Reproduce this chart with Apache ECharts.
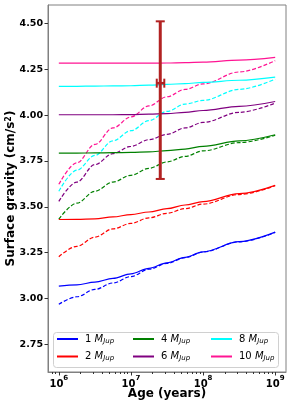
<!DOCTYPE html>
<html><head><meta charset="utf-8">
<script src="https://cdn.jsdelivr.net/npm/echarts@6/dist/echarts.min.js"></script>
<style>html,body{margin:0;padding:0;background:#fff}#c{width:291px;height:403px}</style>
</head><body><div id="c"></div>
<script>
// ---- data ----
const ages = [1e6, 1.778e6, 3.162e6, 5.623e6, 1e7, 1.778e7, 3.162e7, 5.623e7, 1e8, 3.162e8, 1e9];
const masses = [1, 2, 4, 6, 8, 10];
// solid curves
const gSolid1  = [3.068, 3.075, 3.090, 3.110, 3.135, 3.165, 3.195, 3.225, 3.255, 3.310, 3.362];
const gSolid2  = [3.431, 3.432, 3.435, 3.445, 3.458, 3.472, 3.490, 3.510, 3.528, 3.572, 3.617];
const gSolid4  = [3.793, 3.793, 3.794, 3.795, 3.797, 3.800, 3.806, 3.815, 3.830, 3.860, 3.893];
const gSolid6  = [4.002, 4.002, 4.002, 4.002, 4.003, 4.005, 4.008, 4.015, 4.025, 4.048, 4.074];
const gSolid8  = [4.157, 4.157, 4.158, 4.159, 4.160, 4.163, 4.167, 4.172, 4.178, 4.190, 4.207];
const gSolid10 = [4.283, 4.283, 4.283, 4.283, 4.283, 4.283, 4.284, 4.286, 4.289, 4.300, 4.315];
// dashed curves
const gDash1  = [2.969, 3.010, 3.050, 3.085, 3.120, 3.160, 3.192, 3.223, 3.254, 3.309, 3.361];
const gDash2  = [3.228, 3.285, 3.335, 3.380, 3.410, 3.440, 3.465, 3.490, 3.515, 3.567, 3.615];
const gDash4  = [3.433, 3.520, 3.585, 3.635, 3.672, 3.710, 3.745, 3.775, 3.805, 3.850, 3.890];
const gDash6  = [3.530, 3.635, 3.730, 3.790, 3.830, 3.866, 3.895, 3.930, 3.960, 4.015, 4.065];
const gDash8  = [3.585, 3.700, 3.780, 3.860, 3.915, 3.970, 4.020, 4.060, 4.080, 4.140, 4.196];
const gDash10 = [3.623, 3.740, 3.840, 3.930, 3.990, 4.050, 4.100, 4.140, 4.170, 4.235, 4.297];
// observed point with error bars
const obsAge = [2.55e7], obsAgeLow = [2.28e7], obsAgeHigh = [2.9e7];
const obsG = [4.174], obsGLow = [3.652], obsGHigh = [4.511];
// ticks
const xTicks = [1e6, 1e7, 1e8, 1e9];
const xMinor = [8e5, 9e5, 2e6, 3e6, 4e6, 5e6, 6e6, 7e6, 8e6, 9e6, 2e7, 3e7, 4e7, 5e7, 6e7, 7e7, 8e7, 9e7,
                2e8, 3e8, 4e8, 5e8, 6e8, 7e8, 8e8, 9e8];
const yTicks = [2.75, 3.00, 3.25, 3.50, 3.75, 4.00, 4.25, 4.50];

const solids = [gSolid1, gSolid2, gSolid4, gSolid6, gSolid8, gSolid10];
const dashes = [gDash1, gDash2, gDash4, gDash6, gDash8, gDash10];
const colors = ['#0000ff', '#ff0000', '#008000', '#800080', '#00ffff', '#ff1493'];
const FONT = 'DejaVu Sans';

const series = [];
masses.forEach((m, k) => {
  series.push({
    name: m + ' MJup', type: 'line', symbol: 'none', smooth: 0.35, smoothMonotone: 'x',
    itemStyle: {color: colors[k]}, lineStyle: {color: colors[k], width: 1.2}, z: 3,
    data: ages.map((a, i) => [a, solids[k][i]])
  });
  series.push({
    name: m + ' dash', type: 'line', symbol: 'none', smooth: 0.35, smoothMonotone: 'x',
    itemStyle: {color: colors[k]}, lineStyle: {color: colors[k], width: 1.2, type: [4, 2]}, z: 2,
    data: ages.map((a, i) => [a, dashes[k][i]])
  });
});
const EC = '#b22222';
series.push({
  type: 'custom', z: 10,
  data: obsAge.map((a, i) => [a, obsG[i], obsAgeLow[i], obsAgeHigh[i], obsGLow[i], obsGHigh[i]]),
  renderItem: function (params, api) {
    const c = api.coord([api.value(0), api.value(1)]);
    const t = api.coord([api.value(0), api.value(5)]);
    const b = api.coord([api.value(0), api.value(4)]);
    const l = api.coord([api.value(2), api.value(1)]);
    const r = api.coord([api.value(3), api.value(1)]);
    const cap = 4.5;
    const st = w => ({stroke: EC, lineWidth: w});
    return {type: 'group', children: [
      {type: 'line', shape: {x1: t[0], y1: t[1], x2: b[0], y2: b[1]}, style: st(3)},
      {type: 'line', shape: {x1: t[0] - cap, y1: t[1], x2: t[0] + cap, y2: t[1]}, style: st(2)},
      {type: 'line', shape: {x1: b[0] - cap, y1: b[1], x2: b[0] + cap, y2: b[1]}, style: st(2)},
      {type: 'line', shape: {x1: l[0], y1: c[1], x2: r[0], y2: c[1]}, style: st(2.5)},
      {type: 'line', shape: {x1: l[0], y1: c[1] - cap, x2: l[0], y2: c[1] + cap}, style: st(2)},
      {type: 'line', shape: {x1: r[0], y1: c[1] - cap, x2: r[0], y2: c[1] + cap}, style: st(2)}
    ]};
  }
});

const legendCols = [[0, 1], [2, 3], [4, 5]];
const legendLeft = [57, 133, 211];
const legends = legendCols.map((col, j) => ({
  data: col.map(k => masses[k] + ' MJup'),
  orient: 'vertical', left: legendLeft[j], top: 334, itemWidth: 21, itemHeight: 2, itemGap: 7,
  icon: 'rect', padding: 0,
  formatter: name => name.split(' ')[0] + ' {i|M}{s|Jup}',
  textStyle: {fontFamily: FONT, fontSize: 10, color: '#000', padding: [0, 0, 0, 2],
    rich: {i: {fontFamily: FONT, fontSize: 10, fontStyle: 'italic', color: '#000'},
           s: {fontFamily: FONT, fontSize: 7, fontStyle: 'italic', color: '#000', verticalAlign: 'bottom', padding: [4, 0, 0, 0]}}}
}));

const chart = echarts.init(document.getElementById('c'), null, {renderer: 'canvas'});
chart.setOption({
  animation: false,
  backgroundColor: '#fff',
  grid: {left: 48, right: 5, top: 5, bottom: 31, outerBoundsMode: 'none', containLabel: false,
    show: true, borderColor: '#808080', borderWidth: 1, backgroundColor: 'transparent'},
  legend: legends,
  graphic: [{type: 'rect', left: 53, top: 332, z: 1,
    shape: {width: 225, height: 35, r: 3},
    style: {fill: 'rgba(255,255,255,0.85)', stroke: '#d0d0d0', lineWidth: 1}}],
  xAxis: [{
    type: 'log', logBase: 10, min: Math.pow(10, 5.85), max: Math.pow(10, 9.15),
    axisLine: {show: true, lineStyle: {color: '#808080'}},
    axisTick: {show: true, customValues: xTicks, length: 3.5, lineStyle: {color: '#333'}},
    minorTick: {show: false},
    splitLine: {show: false},
    axisLabel: {customValues: xTicks, margin: 3, color: '#000',
      formatter: v => '{b|10}{p|' + Math.round(Math.log10(v)) + '}',
      rich: {b: {fontFamily: FONT, fontSize: 10, fontWeight: 'bold', color: '#000', lineHeight: 14, verticalAlign: 'bottom'},
             p: {fontFamily: FONT, fontSize: 7, fontWeight: 'bold', color: '#000', lineHeight: 14, verticalAlign: 'top', padding: [0, 0, 0, 0]}}},
    name: 'Age (years)', nameLocation: 'middle', nameGap: 22, nameMoveOverlap: false,
    nameTextStyle: {fontFamily: FONT, fontSize: 12, fontWeight: 'bold', color: '#000', verticalAlign: 'middle'}
  }, {
    type: 'log', logBase: 10, min: Math.pow(10, 5.85), max: Math.pow(10, 9.15), position: 'bottom',
    axisLine: {show: false},
    axisTick: {show: true, customValues: xMinor, length: 2, lineStyle: {color: '#333'}},
    axisLabel: {show: false}, splitLine: {show: false}
  }],
  yAxis: {
    type: 'value', min: 2.6, max: 4.6,
    axisLine: {show: true, lineStyle: {color: '#808080'}},
    axisTick: {show: true, customValues: yTicks, length: 3.5, lineStyle: {color: '#333'}},
    splitLine: {show: false},
    axisLabel: {customValues: yTicks, margin: 5, formatter: v => v.toFixed(2),
      fontFamily: FONT, fontSize: 9.5, fontWeight: 'bold', color: '#000'},
    name: 'Surface gravity (cm/s{p|2})', nameLocation: 'middle', nameGap: 37, nameRotate: 90, nameMoveOverlap: false,
    nameTextStyle: {fontFamily: FONT, fontSize: 12, fontWeight: 'bold', color: '#000', verticalAlign: 'middle',
      rich: {p: {fontFamily: FONT, fontSize: 8, fontWeight: 'bold', color: '#000', verticalAlign: 'top'}}}
  },
  series: series
});
</script></body></html>
